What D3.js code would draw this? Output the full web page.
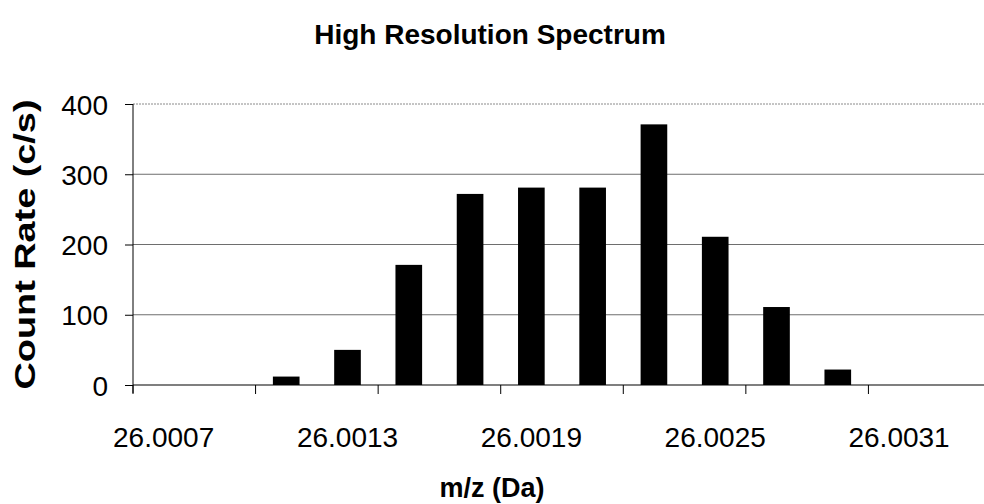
<!DOCTYPE html>
<html>
<head>
<meta charset="utf-8">
<script src="https://cdn.jsdelivr.net/npm/d3@7"></script>
<style>
  body { margin: 0; background: #fff; }
  text { font-family: "Liberation Sans", Arial, sans-serif; fill: #000; }
</style>
</head>
<body>
<div id="chart"></div>
<script>
// m/z categories, step 0.0002 Da
var masses = ["26.0007","26.0009","26.0011","26.0013","26.0015","26.0017","26.0019",
              "26.0021","26.0023","26.0025","26.0027","26.0029","26.0031","26.0033"];
var counts = [0, 0, 12, 50, 171, 272, 281, 281, 371, 211, 111, 22, 0, 0];
var yTicks = [0, 100, 200, 300, 400];
var labelEvery = 3;   // one label per 3 categories
var tickEvery = 2;    // one tick mark per 2 categories

var W = 984, H = 504;
var margin = {top: 104, right: -7, bottom: 119, left: 133};
var width = W - margin.left - margin.right,
    height = H - margin.top - margin.bottom;

var svg = d3.select("#chart").append("svg")
    .attr("width", W)
    .attr("height", H);

var g = svg.append("g")
    .attr("transform", "translate(" + margin.left + "," + margin.top + ")");

var x = d3.scaleBand()
    .domain(masses)
    .range([0, width])
    .paddingInner(0)
    .paddingOuter(0);

var y = d3.scaleLinear()
    .domain([0, 400])
    .range([height, 0]);

// gridlines (top one is fainter, dotted)
g.selectAll(".grid")
   .data(yTicks.slice(1))
   .enter()
   .append("line")
   .attr("x1", 0)
   .attr("x2", width)
   .attr("y1", function(d) { return y(d); })
   .attr("y2", function(d) { return y(d); })
   .attr("stroke", function(d) { return d == 400 ? "#8a8a8a" : "#6e6e6e"; })
   .attr("stroke-dasharray", function(d) { return d == 400 ? "2,1" : null; })
   .attr("stroke-width", 1);

// bars, Excel-like gap width 130%
var bw = x.bandwidth() / 2.3;
g.selectAll(".bar")
   .data(counts)
   .enter()
   .append("rect")
   .attr("x", function(d, i) { return x(masses[i]) + (x.bandwidth() - bw) / 2; })
   .attr("y", function(d) { return y(d); })
   .attr("width", bw)
   .attr("height", function(d) { return height - y(d); })
   .attr("fill", "#000");

// y axis
var yAxis = g.append("g")
   .call(d3.axisLeft(y).tickValues(yTicks).tickSize(8).tickPadding(17));
yAxis.select(".domain").attr("stroke", "#000").attr("d", "M0,0V" + (height + 8));
yAxis.selectAll("text").style("font-size", "28px").attr("dy", "0.36em");

// x axis: tick marks every 2nd category boundary
var xAxis = g.append("g")
   .attr("transform", "translate(0," + height + ")");
xAxis.append("line")
   .attr("x1", 0).attr("x2", width)
   .attr("stroke", "#000").attr("stroke-width", 1.2);
xAxis.selectAll(".tick")
   .data(masses.filter(function(d, i) { return i % tickEvery == 0; }))
   .enter()
   .append("line")
   .attr("x1", function(d) { return x(d); })
   .attr("x2", function(d) { return x(d); })
   .attr("y1", 0)
   .attr("y2", 9)
   .attr("stroke", "#000");
xAxis.selectAll(".lbl")
   .data(masses.filter(function(d, i) { return i % labelEvery == 0 && i < 13; }))
   .enter()
   .append("text")
   .attr("x", function(d) { return x(d) + x.bandwidth() / 2; })
   .attr("y", 62)
   .attr("text-anchor", "middle")
   .style("font-size", "28px")
   .text(function(d) { return d; });

// titles
svg.append("text")
   .attr("x", 490)
   .attr("y", 44)
   .attr("text-anchor", "middle")
   .style("font-size", "28px")
   .style("font-weight", "bold")
   .text("High Resolution Spectrum");

svg.append("text")
   .attr("x", 492)
   .attr("y", 497)
   .attr("text-anchor", "middle")
   .style("font-size", "27px")
   .style("font-weight", "bold")
   .text("m/z (Da)");

svg.append("text")
   .attr("transform", "translate(35," + (margin.top + height / 2) + ") rotate(-90)")
   .attr("text-anchor", "middle")
   .attr("textLength", 290)
   .attr("lengthAdjust", "spacingAndGlyphs")
   .style("font-size", "29px")
   .style("font-weight", "bold")
   .text("Count Rate (c/s)");
</script>
</body>
</html>
